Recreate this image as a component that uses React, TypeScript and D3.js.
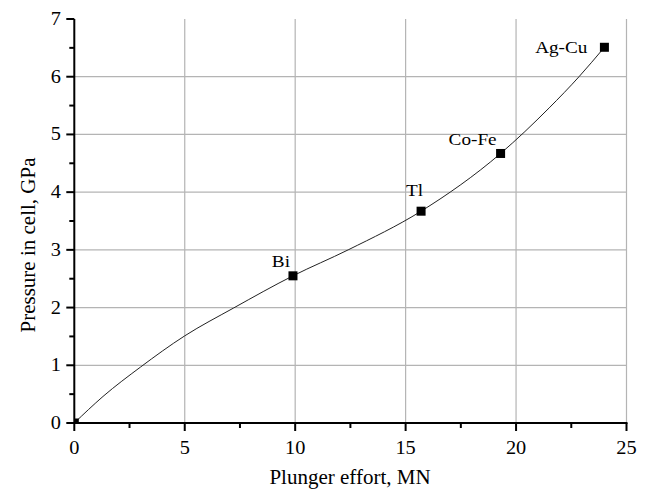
import React from "react";
import * as d3 from "d3";

// Marked calibration points
const pointNames = ["", "Bi", "Tl", "Co-Fe", "Ag-Cu"];
const pointX = [0, 9.9, 15.7, 19.3, 24.0];
const pointY = [0, 2.55, 3.67, 4.67, 6.51];

// Calibration curve
const curveX = [0, 1.3, 3.0, 5.0, 7.2, 9.9, 12.4, 15.7, 19.3, 21.5, 22.85, 24.0];
const curveY = [0, 0.46, 0.97, 1.51, 1.99, 2.55, 3.0, 3.67, 4.67, 5.46, 6.0, 6.51];

const xTicks = [0, 5, 10, 15, 20, 25];
const yTicks = [0, 1, 2, 3, 4, 5, 6, 7];

const xTitle = "Plunger effort, MN";
const yTitle = "Pressure in cell, GPa";

// label layout (dx, dy relative to marker, text-anchor end)
const labelOffsets: [number, number][] = [
  [0, 0],
  [-3, -9],
  [2, -15],
  [-4, -8],
  [-17, 6],
];

export default function App() {
  const W = 646;
  const H = 492;
  const x = d3.scaleLinear().domain([0, 25]).range([74.3, 626.5]);
  const y = d3.scaleLinear().domain([0, 7]).range([423, 19]);
  const font = "'Liberation Serif', 'Times New Roman', serif";
  const sx = 1.13;

  const line = d3
    .line<number>()
    .x((_, i) => x(curveX[i]))
    .y((_, i) => y(curveY[i]))
    .curve(d3.curveMonotoneX);

  const xMinor = d3.range(0, 25, 2.5).map((v) => v + 2.5).filter((v) => v % 5 !== 0);
  const yMinor = d3.range(0.5, 7, 1);

  const x0 = x(0);
  const y0 = y(0);
  const ms = 9;

  return (
    <svg
      width={W}
      height={H}
      style={{ position: "absolute", left: 0, top: 0, background: "#fff" }}
      fontFamily={font}
    >
      <defs>
        <clipPath id="plot">
          <rect x={x(0)} y={y(7)} width={x(25) - x(0)} height={y(0) - y(7)} />
        </clipPath>
      </defs>
      <rect width={W} height={H} fill="#fff" />
      {/* grid */}
      {xTicks.filter((t) => t > 0).map((t) => (
        <line key={"gx" + t} x1={x(t)} x2={x(t)} y1={y(0)} y2={y(7)} stroke="#b4b4b4" strokeWidth={1.2} />
      ))}
      {yTicks.filter((t) => t > 0 && t < 7).map((t) => (
        <line key={"gy" + t} x1={x(0)} x2={x(25)} y1={y(t)} y2={y(t)} stroke="#b4b4b4" strokeWidth={1.2} />
      ))}
      {/* curve */}
      <path d={line(curveX) || ""} fill="none" stroke="#222" strokeWidth={1} clipPath="url(#plot)" />
      {/* markers */}
      <g clipPath="url(#plot)">
        {pointX.map((v, i) => (
          <rect key={"m" + i} x={x(v) - ms / 2} y={y(pointY[i]) - ms / 2} width={ms} height={ms} fill="#000" />
        ))}
      </g>
      {/* labels */}
      {pointNames.map((n, i) =>
        n ? (
          <text
            key={"l" + i}
            transform={`translate(${x(pointX[i]) + labelOffsets[i][0]},${y(pointY[i]) + labelOffsets[i][1]}) scale(${sx},1)`}
            textAnchor="end"
            fontSize={17}
            fill="#000"
          >
            {n}
          </text>
        ) : null
      )}
      {/* axes */}
      <line x1={x0} x2={x(25) + 1} y1={y0} y2={y0} stroke="#000" strokeWidth={2} />
      <line x1={x0} x2={x0} y1={y0 + 1} y2={y(7)} stroke="#000" strokeWidth={2} />
      {xTicks.map((t) => (
        <g key={"xt" + t}>
          <line x1={x(t)} x2={x(t)} y1={y0} y2={y0 + 8} stroke="#000" strokeWidth={2} />
          <text
            transform={`translate(${x(t)},454) scale(${sx},1)`}
            textAnchor="middle"
            fontSize={18}
            fill="#000"
          >
            {t}
          </text>
        </g>
      ))}
      {xMinor.map((t) => (
        <line key={"xm" + t} x1={x(t)} x2={x(t)} y1={y0} y2={y0 + 5} stroke="#000" strokeWidth={2} />
      ))}
      {yTicks.map((t) => (
        <g key={"yt" + t}>
          <line x1={x0 - 8} x2={x0} y1={y(t)} y2={y(t)} stroke="#000" strokeWidth={2} />
          <text
            transform={`translate(61,${y(t) + 6}) scale(${sx},1)`}
            textAnchor="end"
            fontSize={18}
            fill="#000"
          >
            {t}
          </text>
        </g>
      ))}
      {yMinor.map((t) => (
        <line key={"ym" + t} x1={x0 - 5} x2={x0} y1={y(t)} y2={y(t)} stroke="#000" strokeWidth={2} />
      ))}
      {/* titles */}
      <text x={350} y={484} textAnchor="middle" fontSize={21} fill="#000">
        {xTitle}
      </text>
      <text
        transform={`translate(35, 245) rotate(-90)`}
        textAnchor="middle"
        fontSize={21}
        fill="#000"
      >
        {yTitle}
      </text>
    </svg>
  );
}
